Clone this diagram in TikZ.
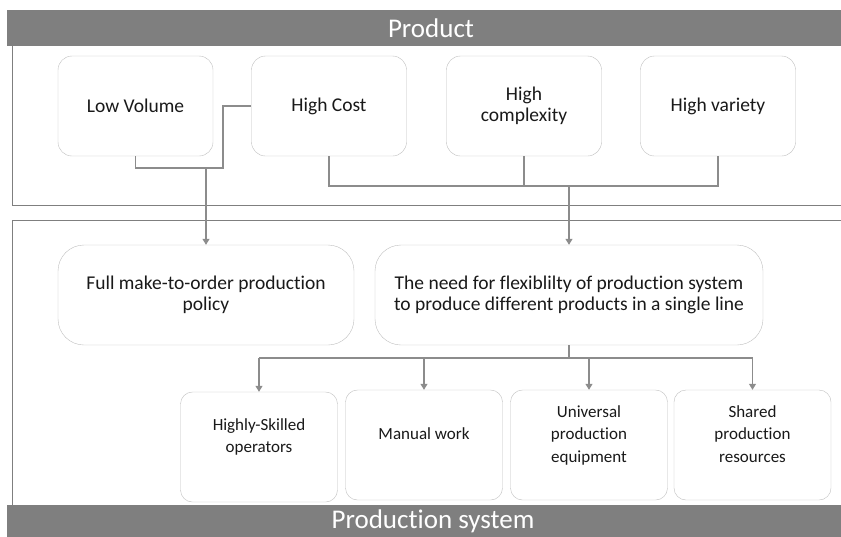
\documentclass[tikz,border=0pt]{standalone}
\usepackage{fontspec}
\setmainfont{Carlito}[Ligatures=NoCommon]
\usetikzlibrary{arrows.meta}

\definecolor{bandgray}{HTML}{7F7F7F}
\definecolor{linegray}{HTML}{8C8C8C}
\definecolor{boxgray}{HTML}{BFBFBF}

\begin{document}
\begin{tikzpicture}[x=1pt, y=-1pt,
		panel/.style={draw=bandgray, line width=1pt},
		band/.style={fill=bandgray},
		bandtext/.style={text=white, font=\fontsize{27}{29}\selectfont},
		factor/.style={draw=boxgray, fill=white, rounded corners=14pt, minimum width=155pt, minimum height=100pt, align=center, text=black!90, font=\fontsize{19.5}{20.5}\selectfont},
		effect/.style={draw=boxgray, fill=white, rounded corners=26pt, minimum height=100pt, align=center, text=black!90, font=\fontsize{19.5}{21}\selectfont},
		means/.style={draw=boxgray, fill=white, rounded corners=12pt, minimum width=157pt, minimum height=110pt, align=center, text=black!90, font=\fontsize{17}{22.5}\selectfont},
		conn/.style={draw=linegray, line width=1.2pt},
		arr/.style={conn, -{Triangle[width=7pt,length=6pt]}}]
			\useasboundingbox (0,0) rectangle (841,536);
			\clip (0,0) rectangle (841,536);

			% the two panels
			\draw[panel] (12,10) rectangle (850,205);
			\draw[panel] (12,220) rectangle (850,505);
			\fill[band] (7,10) rectangle (850,46);
			\fill[band] (7,505) rectangle (850,540);
			\draw (431,28) 	node[bandtext] 	(product) 	{Product};
			\draw (433,521) node[bandtext] 	(prodsys) 	{Production system};

			% product characteristics
			\draw (135.5, 106) 	node[factor] 	(lowvol) 	{Low Volume};
			\draw (329, 106) 	node[factor] 	(highcost) 	{High Cost};
			\draw (524, 106) 	node[factor] 	(highcomp) 	{High\\complexity};
			\draw (718, 106) 	node[factor] 	(highvar) 	{High variety};

			% consequences
			\draw (206, 295) 	node[effect, minimum width=296pt] 	(fullmto) 	{Full make-to-order production\\policy};
			\draw (569, 295) 	node[effect, minimum width=388pt] 	(flexneed) 	{The need for flexiblilty of production system\\to produce different products in a single line};

			% production system features (text sits a bit high in the boxes)
			\draw (259, 447) 	node[means] 	(skilled) 	{Highly-Skilled\\operators\\ \mbox{}};
			\draw (424, 445) 	node[means] 	(manual) 	{Manual work\\ \mbox{}};
			\draw (589, 445) 	node[means] 	(univ) 		{Universal\\production\\equipment\\ \mbox{}};
			\draw (752.5, 445) 	node[means] 	(shared) 	{Shared\\production\\resources\\ \mbox{}};

			\coordinate (j1) at (223, 168);
			\coordinate (j2) at (569, 186);
			\coordinate (j3) at (569, 358);

			\draw[conn] (lowvol.south) |- (j1) |- (highcost.west);
			\draw[arr] (fullmto.north |- j1) -- (fullmto.north);
			\draw[conn] (highcost.south) |- (highvar.south |- j2) -- (highvar.south);
			\draw[conn] (highcomp.south) -- (highcomp.south |- j2);
			\draw[arr] (flexneed.north |- j2) -- (flexneed.north);
			\draw[conn] (flexneed.south) -- (j3);
			\draw[conn] (skilled.north |- j3) -- (shared.north |- j3);
			\foreach \n in {skilled, manual, univ, shared}
				\draw[arr] (\n.north |- j3) -- (\n.north);
		\end{tikzpicture}
\end{document}
